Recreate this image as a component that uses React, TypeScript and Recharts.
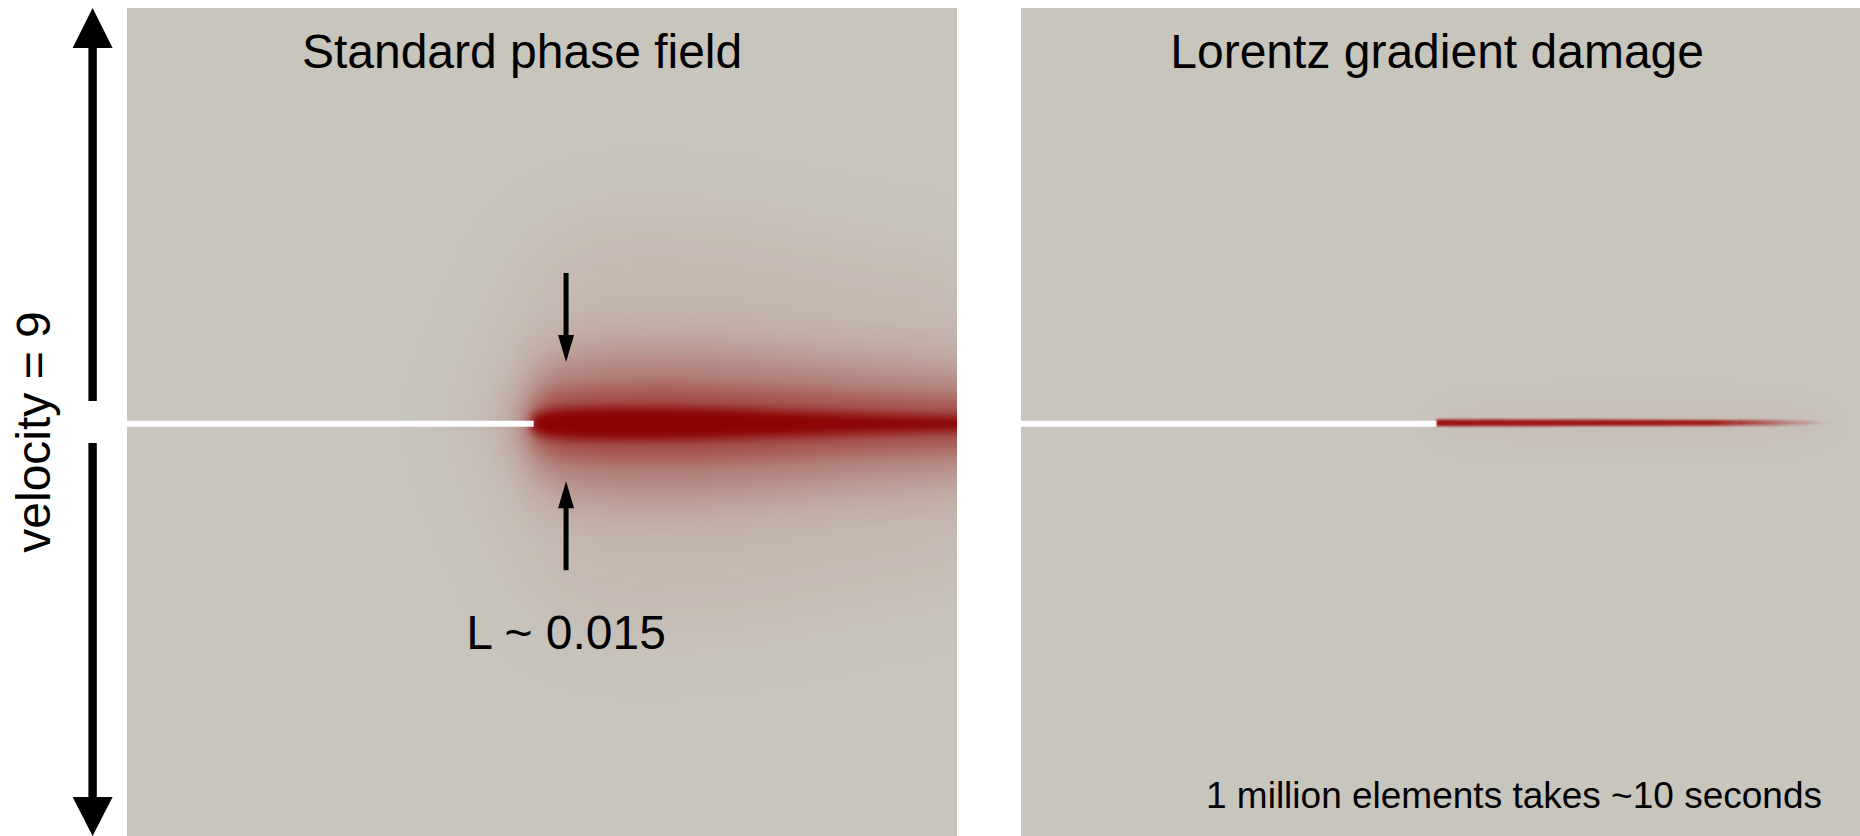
import React from 'react';
import { ComposedChart, Area, Line, Scatter, XAxis, YAxis, ReferenceDot } from 'recharts';

const FONT = '"Liberation Sans", Arial, Helvetica, sans-serif';
const PANEL_BG = '#c8c5bd';
const DAMAGE_RED = '#8b0000';
const THIN_RED = '#9e1616';

// Panel coordinates: x and y both run 0..1 across a square panel
const CRACK_Y = 0.498;

// Standard phase field: pre-crack and the smeared damage band ahead of it
const phaseCrackX = [0, 0.49];
const bandX = [0.40, 0.45, 0.47, 0.485, 0.49, 0.50, 0.53, 0.58, 0.65, 0.75, 0.85, 0.95, 1.05];
const glowHalf = [0.0, 0.12, 0.17, 0.2, 0.21, 0.22, 0.24, 0.25, 0.25, 0.24, 0.22, 0.2, 0.19];
const haloHalf = [0.0, 0.0, 0.045, 0.07, 0.08, 0.094, 0.106, 0.114, 0.116, 0.11, 0.1, 0.092, 0.088];
const outerHalf = [0.0, 0.0, 0.0, 0.035, 0.05, 0.062, 0.072, 0.08, 0.082, 0.077, 0.068, 0.06, 0.056];
const midHalf = [0.0, 0.0, 0.0, 0.0, 0.024, 0.032, 0.04, 0.045, 0.046, 0.042, 0.036, 0.031, 0.028];
const coreHalf = [0.0, 0.0, 0.0, 0.0, 0.01, 0.014, 0.018, 0.02, 0.02, 0.017, 0.013, 0.01, 0.008];

// Width gauge arrows ("L ~ 0.015")
const gaugeX = 0.529;
const gaugeTips = [0.5725, 0.4285];
const gaugeTails = [0.68, 0.321];

// Lorentz gradient damage: pre-crack and the sharp damage line
const lorentzCrackX = [0, 0.495];
const lineX = [0.495, 0.6, 0.75, 0.88, 0.93, 0.968];
const lineHalf = [0.004, 0.004, 0.0038, 0.0033, 0.0024, 0.0006];
const lineGlowHalf = [0.02, 0.03, 0.032, 0.03, 0.024, 0.01];

const LEFT_W = 830;
const LEFT_EXTRA = 80;
const RIGHT_W = 839;
const PANEL_H = 828;

const bandRows = bandX.map((x, i) => ({
  x,
  glow: glowHalf[i],
  halo: haloHalf[i],
  outer: outerHalf[i],
  mid: midHalf[i],
  core: coreHalf[i],
}));

const lineRows = lineX.map((x, i) => ({ x, w: lineHalf[i], g: lineGlowHalf[i] }));

const span = (key: string, yc: number) => (d: any) => [yc - d[key], yc + d[key]];

const bandLayers = [
  { key: 'glow', opacity: 0.07, blur: 'blur40' },
  { key: 'halo', opacity: 0.12, blur: 'blur18' },
  { key: 'outer', opacity: 0.2, blur: 'blur13' },
  { key: 'mid', opacity: 0.38, blur: 'blur9' },
  { key: 'core', opacity: 0.95, blur: 'blur5' },
];

const caption = (text: string, anchor: string, size: number) => (p: any) => (
  <text x={p.cx} y={p.cy} textAnchor={anchor} fontSize={size} fontFamily={FONT} fill="#000">
    {text}
  </text>
);

const headDown = (p: any) => (
  <polygon points={`${p.cx - 8},${p.cy - 27} ${p.cx + 8},${p.cy - 27} ${p.cx},${p.cy}`} fill="#000" />
);
const headUp = (p: any) => (
  <polygon points={`${p.cx - 8},${p.cy + 27} ${p.cx + 8},${p.cy + 27} ${p.cx},${p.cy}`} fill="#000" />
);

const hiddenAxes = (xMax: number) => [
  <XAxis key="x" type="number" dataKey="x" domain={[0, xMax]} hide allowDataOverflow />,
  <YAxis key="y" type="number" dataKey="y" domain={[0, 1]} hide allowDataOverflow />,
];

const blurCss = `
.blur40 { filter: url(#blur40); }
.blur18 { filter: url(#blur18); }
.blur13 { filter: url(#blur13); }
.blur9 { filter: url(#blur9); }
.blur5 { filter: url(#blur5); }
.blur1 { filter: url(#blur1); }
.blur12 { filter: url(#blur12); }
`;

function StandardPanel() {
  const xMax = (LEFT_W + LEFT_EXTRA) / LEFT_W;
  return (
    <ComposedChart width={LEFT_W + LEFT_EXTRA} height={PANEL_H} margin={{ top: 0, right: 0, bottom: 0, left: 0 }}>
      <defs>
        {[['blur40', 40], ['blur18', 18], ['blur13', 13], ['blur9', 9], ['blur5', 5]].map(([id, s]) => (
          <filter key={id} id={id as string} x="-50%" y="-50%" width="200%" height="200%">
            <feGaussianBlur stdDeviation={s as number} />
          </filter>
        ))}
      </defs>
      {hiddenAxes(xMax)}
      {bandLayers.map((l) => (
        <Area
          key={l.key}
          data={bandRows}
          dataKey={span(l.key, CRACK_Y)}
          type="monotone"
          fill={DAMAGE_RED}
          fillOpacity={l.opacity}
          stroke="none"
          className={l.blur}
          isAnimationActive={false}
        />
      ))}
      <Line
        data={phaseCrackX.map((x) => ({ x, y: CRACK_Y }))}
        dataKey="y"
        stroke="#ffffff"
        strokeWidth={6}
        dot={false}
        isAnimationActive={false}
      />
      {gaugeTips.map((tip, i) => (
        <Line
          key={`shaft-${i}`}
          data={[
            { x: gaugeX, y: gaugeTails[i] },
            { x: gaugeX, y: tip + (i === 0 ? 0.03 : -0.03) },
          ]}
          dataKey="y"
          stroke="#000"
          strokeWidth={5}
          dot={false}
          isAnimationActive={false}
        />
      ))}
      <Scatter data={[{ x: gaugeX, y: gaugeTips[0] }]} dataKey="y" shape={headDown} isAnimationActive={false} />
      <Scatter data={[{ x: gaugeX, y: gaugeTips[1] }]} dataKey="y" shape={headUp} isAnimationActive={false} />
      <ReferenceDot x={0.476} y={0.9275} r={0} shape={caption('Standard phase field', 'middle', 48)} />
      <ReferenceDot x={gaugeX} y={0.2258} r={0} shape={caption('L ~ 0.015', 'middle', 48)} />
    </ComposedChart>
  );
}

function LorentzPanel() {
  return (
    <ComposedChart width={RIGHT_W} height={PANEL_H} margin={{ top: 0, right: 0, bottom: 0, left: 0 }}>
      <defs>
        <filter id="blur1" x="-10%" y="-200%" width="120%" height="500%">
          <feGaussianBlur stdDeviation={0.9} />
        </filter>
        <filter id="blur12" x="-20%" y="-200%" width="140%" height="500%">
          <feGaussianBlur stdDeviation={12} />
        </filter>
        <linearGradient id="lorentzFade" x1="0" y1="0" x2="1" y2="0">
          <stop offset="0" stopColor={THIN_RED} stopOpacity={1} />
          <stop offset="0.7" stopColor={THIN_RED} stopOpacity={0.95} />
          <stop offset="1" stopColor={THIN_RED} stopOpacity={0} />
        </linearGradient>
      </defs>
      {hiddenAxes(1)}
      <Area
        data={lineRows}
        dataKey={span('g', CRACK_Y + 0.001)}
        type="monotone"
        fill={DAMAGE_RED}
        fillOpacity={0.03}
        stroke="none"
        className="blur12"
        isAnimationActive={false}
      />
      <Area
        data={lineRows}
        dataKey={span('w', CRACK_Y + 0.001)}
        type="monotone"
        fill="url(#lorentzFade)"
        fillOpacity={1}
        stroke="none"
        className="blur1"
        isAnimationActive={false}
      />
      <Line
        data={lorentzCrackX.map((x) => ({ x, y: CRACK_Y }))}
        dataKey="y"
        stroke="#ffffff"
        strokeWidth={6}
        dot={false}
        isAnimationActive={false}
      />
      <ReferenceDot x={0.496} y={0.9275} r={0} shape={caption('Lorentz gradient damage', 'middle', 48)} />
      <ReferenceDot x={0.9547} y={0.0338} r={0} shape={caption('1 million elements takes ~10 seconds', 'end', 37)} />
    </ComposedChart>
  );
}

// Loading direction arrow with its label, left of the panels
function VelocityArrow() {
  return (
    <svg width={127} height={836} style={{ position: 'absolute', left: 0, top: 0 }}>
      <line x1={92.6} y1={46} x2={92.6} y2={401} stroke="#000" strokeWidth={8.4} />
      <polygon points="72.6,48 112.6,48 92.6,8" fill="#000" />
      <line x1={92.6} y1={443} x2={92.6} y2={799} stroke="#000" strokeWidth={8.4} />
      <polygon points="72.6,797 112.6,797 92.6,836" fill="#000" />
      <text
        transform="translate(50,432) rotate(-90)"
        textAnchor="middle"
        fontSize={48}
        fontFamily={FONT}
        fill="#000"
      >
        velocity = 9
      </text>
    </svg>
  );
}

export default function App() {
  return (
    <div style={{ position: 'absolute', left: 0, top: 0, width: 1860, height: 836, background: '#fff', overflow: 'hidden' }}>
      <style>{blurCss}</style>
      <div style={{ position: 'absolute', left: 127, top: 8, width: LEFT_W, height: PANEL_H, background: PANEL_BG, overflow: 'hidden' }}>
        <StandardPanel />
      </div>
      <div style={{ position: 'absolute', left: 1021, top: 8, width: RIGHT_W, height: PANEL_H, background: PANEL_BG, overflow: 'hidden' }}>
        <LorentzPanel />
      </div>
      <VelocityArrow />
    </div>
  );
}
